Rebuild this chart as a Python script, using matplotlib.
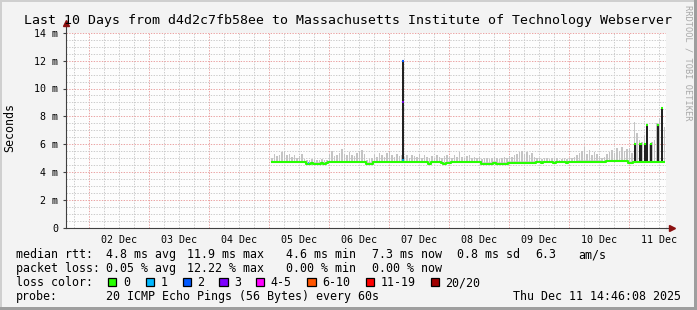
import matplotlib
matplotlib.use('Agg')
import matplotlib.pyplot as plt
import matplotlib.dates as mdates
from matplotlib.patches import Rectangle
from datetime import datetime, timedelta

W, H = 697, 310

# graph window (last 10 days)
t_start = datetime(2025, 12, 1, 14, 46, 8)
t_end = datetime(2025, 12, 11, 14, 46, 8)
t_first = datetime(2025, 12, 5, 1, 10)   # first sample, then one per hour

# median rtt (ms), hourly
median_ms = [
    4.70, 4.70, 4.70, 4.70, 4.70, 4.70, 4.70, 4.70, 4.70, 4.70, 4.70, 4.70, 4.70, 4.70,
    4.62, 4.60, 4.64, 4.60, 4.62, 4.60, 4.63, 4.60, 4.64,
    4.70, 4.70, 4.70, 4.70, 4.70, 4.70, 4.70, 4.70, 4.70, 4.70, 4.70, 4.70, 4.70, 4.70, 4.70,
    4.60, 4.62, 4.60,
    4.70, 4.70, 4.70, 4.70, 4.70, 4.70, 4.70, 4.70, 4.70, 4.70, 4.70,
    4.70,
    4.70, 4.70, 4.70, 4.70, 4.70, 4.70, 4.70, 4.70, 4.70, 4.70, 4.62,
    4.70, 4.70, 4.70, 4.70, 4.63, 4.62, 4.63, 4.65, 4.70, 4.70, 4.70, 4.70,
    4.70, 4.70, 4.70, 4.70, 4.70, 4.70, 4.70, 4.70, 4.62, 4.62, 4.62, 4.62, 4.62, 4.66,
    4.59, 4.59, 4.59, 4.59, 4.59, 4.66, 4.66, 4.66, 4.66, 4.66,
    4.66, 4.66, 4.66, 4.66, 4.66, 4.66, 4.70, 4.70, 4.67, 4.70, 4.70, 4.70, 4.70, 4.67,
    4.70, 4.70, 4.70, 4.70, 4.67, 4.70, 4.70, 4.70,
    4.73, 4.73, 4.73, 4.73, 4.73, 4.73, 4.73, 4.73, 4.73, 4.73, 4.70, 4.70,
    4.78, 4.78, 4.78, 4.78, 4.78, 4.78, 4.78, 4.78, 4.78, 4.66, 4.66,
    4.70, 4.70, 4.70, 4.70, 4.70, 4.70, 4.70, 4.70, 4.70, 4.70, 4.70, 4.70, 4.70,
]

# top of the smoke (ms), hourly
smoke_top_ms = [
    5.05, 5.30, 5.15, 5.20, 5.45, 5.50, 5.25, 5.30, 5.10, 5.20, 5.05, 5.15, 5.30, 4.95,
    4.90, 4.85, 4.95, 4.90, 4.85, 4.90, 4.95, 4.85, 4.90,
    5.30, 5.50, 5.15, 5.20, 5.35, 5.66, 5.30, 5.20, 5.45, 5.25, 5.15, 5.35, 5.50, 5.60, 5.30,
    4.90, 4.95, 5.00,
    5.20, 5.10, 5.35, 5.25, 5.10, 5.40, 5.45, 5.20, 5.10, 5.30, 5.15,
    5.20,
    5.10, 5.20, 5.05, 5.25, 5.15, 5.10, 5.30, 5.05, 5.20, 5.10, 5.00,
    5.15, 5.05, 5.20, 5.10, 5.00, 5.15, 5.25, 5.10, 5.05, 5.20, 5.10, 5.45,
    5.10, 5.00, 5.15, 5.20, 5.05, 5.10, 5.00, 5.10, 4.95, 5.00, 5.05, 4.95, 5.00, 5.10,
    5.00, 4.95, 5.05, 5.10, 5.00, 5.15, 5.10, 5.20, 5.30, 5.45,
    5.50, 5.30, 5.45, 5.20, 5.35, 5.10, 5.05, 5.00, 4.95, 5.00, 5.05, 4.95, 5.00, 4.95,
    5.00, 4.90, 4.95, 5.00, 4.95, 5.05, 5.00, 5.10,
    5.20, 5.35, 5.55, 5.80, 5.30, 5.60, 5.20, 5.45, 5.30, 5.15, 5.05, 5.10,
    5.30, 5.45, 5.60, 5.35, 5.70, 5.50, 5.80, 5.55, 5.65, 5.75, 5.40,
    7.60, 6.80, 6.30, 6.20, 6.60, 6.40, 6.00, 6.20, 6.30, 7.50, 7.90, 6.50, 7.25,
]

# dark smoke columns: time, top (ms), loss class of the median at the top
column_times = ['2025-12-07 05:34', '2025-12-11 02:17', '2025-12-11 04:34', '2025-12-11 06:17',
                '2025-12-11 07:10', '2025-12-11 08:46', '2025-12-11 11:34', '2025-12-11 13:10']
column_tops = [12.0, 6.0, 6.0, 6.0, 7.36, 6.0, 7.36, 8.58]
column_loss = [2, 0, 0, 0, 0, 0, 0, 0]

# single samples with packet loss: time, value, loss class
loss_times = ['2025-12-05 15:46', '2025-12-07 05:34', '2025-12-07 05:34']
loss_values = [4.66, 9.05, 4.87]
loss_class = [1, 3, 1]

loss_labels = ['0', '1', '2', '3', '4-5', '6-10', '11-19', '20/20']
loss_colors = ['#26ff00', '#00b8ff', '#0059ff', '#7e00ff', '#ff00ff', '#ff5500', '#ff0000', '#a00000']

title = 'Last 10 Days from d4d2c7fb58ee to Massachusetts Institute of Technology Webserver'
rtt_stats = ['4.8 ms avg', '11.9 ms max', '4.6 ms min', '7.3 ms now', '0.8 ms sd', '6.3', 'am/s']
loss_stats = ['0.05 % avg', '12.22 % max', '0.00 % min', '0.00 % now']
probe_text = '20 ICMP Echo Pings (56 Bytes) every 60s'
stamp = 'Thu Dec 11 14:46:08 2025'

plt.rcParams['font.family'] = 'DejaVu Sans Mono'

BACK = '#f3f3f3'
AXC = '#404040'
MGRID = '#eaa2a2'
GRID = '#cbcbcb'


def fx(x):
    return x / W


def fy(y):
    return 1 - y / H


fig = plt.figure(figsize=(W / 100, H / 100), dpi=100, facecolor=BACK)

# plot area in pixels: x 66..666, y 32.7..228
ax = fig.add_axes([fx(66), fy(228), 600 / W, (228 - 32.7) / H])
ax.set_facecolor('#fdfdfd')
ax.set_xlim(t_start, t_end)
ax.set_ylim(0, 14)

# grid: 6 h / 0.5 ms minor (grey), day / 2 ms major (red)
t = datetime(2025, 12, 1, 18, 0)
while t < t_end:
    ax.axvline(t, color=MGRID if t.hour == 0 else GRID, lw=0.7,
               ls=(0, (1.4, 1.4)), zorder=1)
    t += timedelta(hours=6)
for k in range(1, 29):
    v = k * 0.5
    ax.axhline(v, color=MGRID if k % 4 == 0 else GRID, lw=0.7,
               ls=(0, (1.4, 1.4)), zorder=1)

times = [t_first + timedelta(hours=i) for i in range(len(median_ms))]
tnum = mdates.date2num(times)

# smoke
base_band = [m + 0.12 for m in median_ms]
ax.fill_between(tnum, median_ms, base_band, step='mid', color='#d6d6d6', lw=0, zorder=2)
ax.bar(tnum, [s - m for s, m in zip(smoke_top_ms, median_ms)], bottom=median_ms,
       width=0.75 / 24, color='#c4c4c4', lw=0, zorder=2)

# dark columns
ctimes = mdates.date2num([datetime.strptime(s, '%Y-%m-%d %H:%M') for s in column_times])
ax.bar(ctimes, [c - 4.7 for c in column_tops], bottom=4.7, width=1.0 / 24,
       color='#222222', lw=0, zorder=3)
ax.hlines(column_tops, ctimes - 0.5 / 24, ctimes + 0.5 / 24,
          colors=[loss_colors[c] for c in column_loss], lw=1.5, zorder=5)

# lighter inside of the big spike
ax.bar(ctimes[0], 7.5 - 4.9, bottom=4.9, width=0.35 / 24, color='white', lw=0, zorder=3)
ax.bar(ctimes[0], 9.05 - 7.5, bottom=7.5, width=0.35 / 24, color='#777777', lw=0, zorder=3)

# median line
ax.step(tnum, median_ms, where='mid', color=loss_colors[0], lw=1.5, zorder=4)

ltimes = mdates.date2num([datetime.strptime(s, '%Y-%m-%d %H:%M') for s in loss_times])
ax.hlines(loss_values, ltimes - 0.25 / 24, ltimes + 0.25 / 24,
          colors=[loss_colors[c] for c in loss_class], lw=1.2, zorder=6)

# axes
for s in ['top', 'right']:
    ax.spines[s].set_visible(False)
for s in ['left', 'bottom']:
    ax.spines[s].set_color(AXC)
    ax.spines[s].set_linewidth(0.8)
    ax.spines[s].set_zorder(7)
ax.plot([1.0, 1.01], [0, 0], transform=ax.transAxes, color=AXC, lw=0.8, clip_on=False, zorder=7)
ax.plot([0, 0], [1.0, 1.05], transform=ax.transAxes, color=AXC, lw=0.8, clip_on=False, zorder=7)
ax.plot([1.01], [0], transform=ax.transAxes, marker='>', ms=4, color='#8b1010',
        clip_on=False, zorder=8)
ax.plot([0], [1.05], transform=ax.transAxes, marker='^', ms=4, color='#8b1010',
        clip_on=False, zorder=8)

ax.set_yticks(range(0, 15, 2))
ax.set_yticklabels(['0'] + ['%d m' % v for v in range(2, 15, 2)])
ax.tick_params(axis='y', length=2, width=0.8, color=AXC, pad=3.5, labelsize=7.2,
               direction='out')
noons = [datetime(2025, 12, d, 12) for d in range(2, 12)]
ax.set_xticks(mdates.date2num(noons))
ax.set_xticklabels([n.strftime('%d %b') for n in noons])
ax.tick_params(axis='x', length=0, pad=5, labelsize=7.2)

# texts
fig.text(fx(347.8), fy(24.3), title, ha='center', va='baseline', fontsize=9.5, color='#000')
fig.text(fx(10), fy(127.5), 'Seconds', rotation=90, ha='center', va='center', fontsize=8.4)
fig.text(fx(688), fy(5), 'RRDTOOL / TOBI OETIKER', rotation=270, ha='center', va='top',
         fontsize=6.2, color='#a8a8a8')

LF = 8.4
rows = [258.3, 272.2, 286.1, 300.0]
fig.text(fx(15.5), fy(rows[0]), 'median rtt:', fontsize=LF, va='baseline')
for x, s in zip([106.5, 187.5, 285.7, 371.7, 457.3, 535.7, 578.3], rtt_stats):
    fig.text(fx(x), fy(rows[0]), s, fontsize=LF, va='baseline')
fig.text(fx(15.5), fy(rows[1]), 'packet loss:', fontsize=LF, va='baseline')
for x, s in zip([106.5, 187.5, 285.7, 371.7], loss_stats):
    fig.text(fx(x), fy(rows[1]), s, fontsize=LF, va='baseline')
fig.text(fx(15.5), fy(rows[2]), 'loss color:', fontsize=LF, va='baseline')
for bx, lab, col in zip([108.3, 145.7, 182.7, 219.3, 256, 307.3, 365.7, 430.7],
                        loss_labels, loss_colors):
    fig.patches.append(Rectangle((fx(bx), fy(286.2)), 8.2 / W, 8.2 / H,
                                 transform=fig.transFigure, facecolor=col,
                                 edgecolor='black', lw=0.9))
    fig.text(fx(bx + 14.5), fy(rows[2]), lab, fontsize=LF, va='baseline')
fig.text(fx(15.5), fy(rows[3]), 'probe:', fontsize=LF, va='baseline')
fig.text(fx(106.5), fy(rows[3]), probe_text, fontsize=LF, va='baseline')
fig.text(fx(681), fy(rows[3]), stamp, fontsize=LF, va='baseline', ha='right')

# frame shading
fig.patches.append(Rectangle((0, fy(2)), 1, 2 / H, transform=fig.transFigure,
                             facecolor='#cfcfcf', lw=0))
fig.patches.append(Rectangle((0, 0), 2 / W, 1, transform=fig.transFigure,
                             facecolor='#cfcfcf', lw=0))
fig.patches.append(Rectangle((0, 0), 1, 3 / H, transform=fig.transFigure,
                             facecolor='#9e9e9e', lw=0))
fig.patches.append(Rectangle((fx(694), 0), 3 / W, 1, transform=fig.transFigure,
                             facecolor='#9e9e9e', lw=0))

fig.savefig('out.png', dpi=100, facecolor=BACK)
